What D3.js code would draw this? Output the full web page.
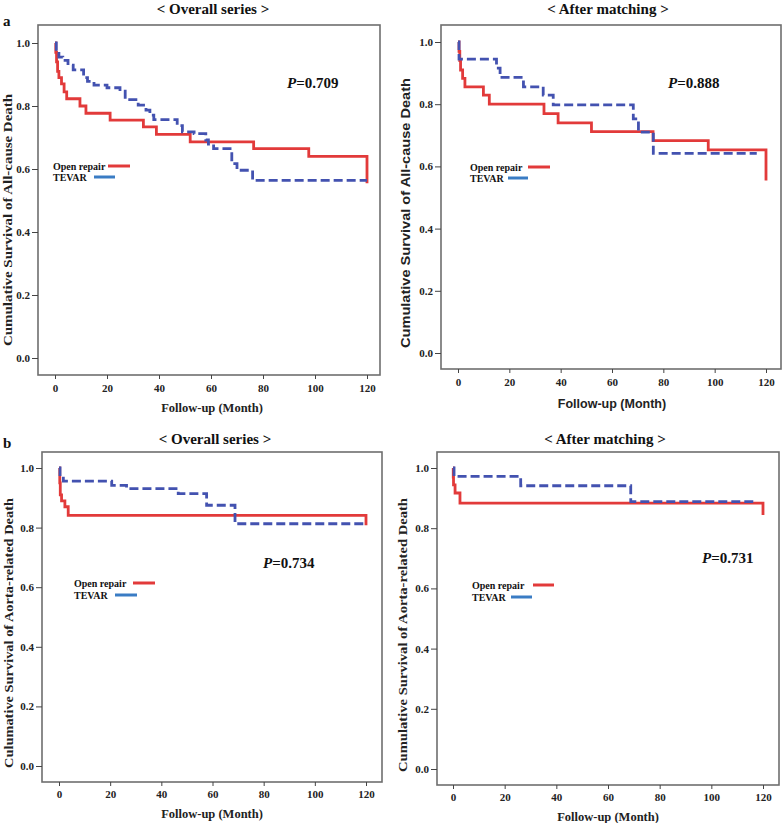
<!DOCTYPE html>
<html>
<head>
<meta charset="utf-8">
<script src="https://cdn.jsdelivr.net/npm/d3@7/dist/d3.min.js"></script>
<style>
  html, body { margin: 0; padding: 0; background: #fff; }
  svg { display: block; }
</style>
</head>
<body>
<svg id="chart" width="783" height="823"></svg>
<script>
// ---------------- DATA ----------------
const xTicks = [0, 20, 40, 60, 80, 100, 120];
const yTicks = [0.0, 0.2, 0.4, 0.6, 0.8, 1.0];
const seriesNames = ["Open repair", "TEVAR"];
const panelTitles = ["< Overall series >", "< After matching >", "< Overall series >", "< After matching >"];
const panelLetters = ["a", "", "b", ""];
const yLabels = [
  "Cumulative Survival of All-cause Death",
  "Cumulative Survival of All-cause Death",
  "Culumative Survival of Aorta-related Death",
  "Cumulative Survival of Aorta-related Death"
];
const xLabel = "Follow-up (Month)";
const pValues = ["0.709", "0.888", "0.734", "0.731"];

// [month, cumulative survival]
const aOverallOpen = [[0,1],[0.3,0.97],[0.6,0.94],[1,0.91],[1.5,0.89],[2.5,0.87],[3.5,0.845],[4.5,0.823],[9.6,0.8],[11.9,0.777],[21.2,0.755],[34,0.734],[39,0.71],[52,0.686],[76.4,0.665],[97.6,0.64],[120,0.555]];
const aOverallTevar = [[0,1],[0.5,0.967],[1.5,0.955],[3,0.945],[5,0.93],[7,0.915],[11,0.89],[12.5,0.878],[15,0.866],[20,0.858],[25,0.847],[27,0.82],[32,0.803],[35,0.787],[36.5,0.771],[38,0.757],[47,0.738],[49,0.718],[53.5,0.712],[58,0.692],[59,0.679],[61,0.665],[68,0.617],[70,0.596],[76,0.564],[120,0.564]];
const aMatchedOpen = [[0,1],[0.4,0.97],[0.7,0.94],[1,0.91],[1.8,0.883],[2.7,0.856],[9.9,0.829],[12.2,0.8],[33.5,0.77],[39,0.74],[52,0.712],[76,0.683],[97.5,0.653],[120,0.555]];
const aMatchedTevar = [[0,1],[0.4,0.945],[15,0.916],[16.4,0.886],[25.5,0.856],[33.2,0.829],[37.1,0.798],[68.3,0.753],[70.3,0.71],[76.1,0.642],[116.4,0.642]];
const bOverallOpen = [[0,1],[0.3,0.95],[0.5,0.91],[1,0.89],[2.3,0.87],[3.6,0.841],[120,0.808]];
const bOverallTevar = [[0,1],[0.4,0.972],[1.7,0.956],[20.6,0.942],[26.4,0.931],[46.6,0.914],[57.7,0.875],[68.8,0.813],[120,0.813]];
const bMatchedOpen = [[0,1],[0.1,0.97],[0.2,0.944],[0.8,0.917],[2.7,0.883],[120,0.844]];
const bMatchedTevar = [[0,1],[0.4,0.972],[26.2,0.941],[68.8,0.888],[117.5,0.888]];

const panelSeries = [
  [aOverallOpen, aOverallTevar],
  [aMatchedOpen, aMatchedTevar],
  [bOverallOpen, bOverallTevar],
  [bMatchedOpen, bMatchedTevar]
];

// ---------------- LAYOUT ----------------
const layouts = [
  { frame:{l:38,t:25,r:380,b:375}, x0:55, x1:367, y0:358, y1:43, xPad:5,
    title:{x:213,y:14}, letter:{x:3,y:26}, xlab:{x:212,y:412}, ylab:{x:12,y:220,len:252},
    p:{x:287,y:88}, leg:{tx:53,ty1:166,ty2:177,r:[108,130],b:[94,115]}, sans:false },
  { frame:{l:441,t:25,r:781,b:369}, x0:458, x1:766, y0:353, y1:42, xPad:5,
    title:{x:608,y:14}, letter:null, xlab:{x:612,y:408}, ylab:{x:410,y:213,len:270},
    p:{x:668,y:88}, leg:{tx:470,ty1:167,ty2:178,r:[528,550],b:[508,528]}, sans:true },
  { frame:{l:42,t:452,r:382,b:782}, x0:59, x1:366, y0:766, y1:468, xPad:4,
    title:{x:215,y:444}, letter:{x:3,y:448}, xlab:{x:212,y:818}, ylab:{x:13,y:633,len:270},
    p:{x:263,y:568}, leg:{tx:74,ty1:583,ty2:595,r:[133,155],b:[115,137]}, sans:false },
  { frame:{l:437,t:452,r:779,b:785}, x0:453, x1:763, y0:769, y1:468, xPad:4,
    title:{x:605,y:444}, letter:null, xlab:{x:608,y:821}, ylab:{x:407,y:635,len:274},
    p:{x:702,y:563}, leg:{tx:472,ty1:585,ty2:597,r:[533,554],b:[511,532]}, sans:false }
];

const SERIF = "'Liberation Serif', 'Times New Roman', serif";
const SANS = "'Liberation Sans', Arial, sans-serif";
const RED = "#e23a3a";
const BLUE = "#4352b0";
const BLUE_LEG = "#3a7cc4";

const svg = d3.select("#chart");

layouts.forEach((L, i) => {
  const g = svg.append("g");
  const x = d3.scaleLinear().domain([0, 120]).range([L.x0, L.x1]);
  const y = d3.scaleLinear().domain([0, 1]).range([L.y0, L.y1]);

  // frame
  g.append("rect")
    .attr("x", L.frame.l).attr("y", L.frame.t)
    .attr("width", L.frame.r - L.frame.l).attr("height", L.frame.b - L.frame.t)
    .attr("fill", "none").attr("stroke", "#6e6e6e").attr("stroke-width", 1.6);

  // y axis
  const ya = g.append("g").attr("transform", `translate(${L.frame.l},0)`)
    .call(d3.axisLeft(y).tickValues(yTicks).tickFormat(d3.format(".1f")).tickSize(6).tickPadding(2));
  ya.select(".domain").remove();
  ya.selectAll("line").attr("stroke", "#444").attr("stroke-width", 1);
  ya.selectAll("text").attr("font-family", SERIF).attr("font-weight", "bold")
    .attr("font-size", 11).attr("fill", "#222");

  // x axis
  const xa = g.append("g").attr("transform", `translate(0,${L.frame.b})`)
    .call(d3.axisBottom(x).tickValues(xTicks).tickFormat(d3.format("d")).tickSize(4).tickPadding(L.xPad));
  xa.select(".domain").remove();
  xa.selectAll("line").attr("stroke", "#444").attr("stroke-width", 1);
  xa.selectAll("text").attr("font-family", SERIF).attr("font-weight", "bold")
    .attr("font-size", 11).attr("fill", "#222");

  // curves
  const line = d3.line().x(d => x(d[0])).y(d => y(d[1])).curve(d3.curveStepAfter);
  const [open, tevar] = panelSeries[i];
  g.append("path").datum(open).attr("d", line)
    .attr("fill", "none").attr("stroke", RED).attr("stroke-width", 2.8);
  g.append("path").datum(tevar).attr("d", line)
    .attr("fill", "none").attr("stroke", BLUE).attr("stroke-width", 2.8)
    .attr("stroke-dasharray", "9,4");

  // title
  g.append("text").attr("x", L.title.x).attr("y", L.title.y)
    .attr("text-anchor", "middle").attr("font-family", SERIF).attr("font-weight", "bold")
    .attr("font-size", 15).attr("fill", "#111").text(panelTitles[i]);

  // panel letter
  if (L.letter) {
    g.append("text").attr("x", L.letter.x).attr("y", L.letter.y)
      .attr("font-family", SERIF).attr("font-weight", "bold")
      .attr("font-size", 15).attr("fill", "#111").text(panelLetters[i]);
  }

  const labFont = L.sans ? SANS : SERIF;
  // x label
  g.append("text").attr("x", L.xlab.x).attr("y", L.xlab.y)
    .attr("text-anchor", "middle").attr("font-family", labFont).attr("font-weight", "bold")
    .attr("font-size", 12.5).attr("fill", "#222").text(xLabel);

  // y label
  g.append("text")
    .attr("transform", `translate(${L.ylab.x},${L.ylab.y}) rotate(-90)`)
    .attr("text-anchor", "middle").attr("font-family", labFont).attr("font-weight", "bold")
    .attr("font-size", 12.5).attr("fill", "#222")
    .attr("textLength", L.ylab.len).attr("lengthAdjust", "spacingAndGlyphs")
    .text(yLabels[i]);

  // p value
  const pt = g.append("text").attr("x", L.p.x).attr("y", L.p.y)
    .attr("font-family", SERIF).attr("font-weight", "bold")
    .attr("font-size", 15).attr("fill", "#111");
  pt.append("tspan").attr("font-style", "italic").text("P");
  pt.append("tspan").text("=" + pValues[i]);

  // legend
  const leg = g.append("g");
  leg.append("text").attr("x", L.leg.tx).attr("y", L.leg.ty1 + 3.5)
    .attr("font-family", SERIF).attr("font-weight", "bold").attr("font-size", 10)
    .attr("fill", "#111").text(seriesNames[0]);
  leg.append("line").attr("x1", L.leg.r[0]).attr("x2", L.leg.r[1])
    .attr("y1", L.leg.ty1).attr("y2", L.leg.ty1)
    .attr("stroke", RED).attr("stroke-width", 3);
  leg.append("text").attr("x", L.leg.tx).attr("y", L.leg.ty2 + 3.5)
    .attr("font-family", SERIF).attr("font-weight", "bold").attr("font-size", 10)
    .attr("fill", "#111").text(seriesNames[1]);
  leg.append("line").attr("x1", L.leg.b[0]).attr("x2", L.leg.b[1])
    .attr("y1", L.leg.ty2).attr("y2", L.leg.ty2)
    .attr("stroke", BLUE_LEG).attr("stroke-width", 3);
});
</script>
</body>
</html>
